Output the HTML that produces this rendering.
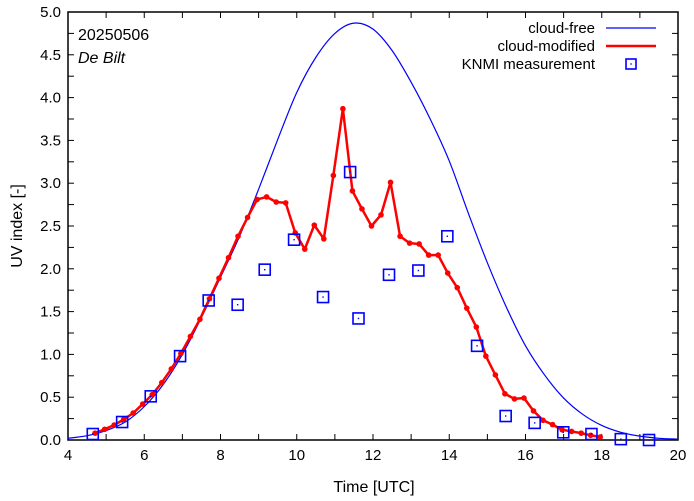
<!DOCTYPE html>
<html><head><meta charset="utf-8"><style>
body{margin:0;background:#fff}
svg{display:block;font-family:"Liberation Sans",sans-serif}
</style></head><body>
<svg id="chart" width="694" height="501" viewBox="0 0 694 501">
<g id="axes"></g>
<g id="plot"></g>
<g id="legend"></g>
<text x="78" y="40" font-size="16">20250506</text>
<text x="78" y="63" font-size="16" font-style="italic">De Bilt</text>
<text x="374" y="492" font-size="16" text-anchor="middle">Time  [UTC]</text>
<text x="22" y="226" font-size="16" text-anchor="middle" transform="rotate(-90 22 226)">UV index  [-]</text>
</svg>
<script>
const xTicks=[4,6,8,10,12,14,16,18,20];
const yTicks=[0,0.5,1,1.5,2,2.5,3,3.5,4,4.5,5];
const clearTimes=[4.0,4.5,5.0,5.5,6.0,6.5,7.0,7.5,8.0,8.5,9.0,9.5,10.0,10.5,11.0,11.5,12.0,12.5,13.0,13.5,14.0,14.5,15.0,15.5,16.0,16.5,17.0,17.5,18.0,18.5,19.0,19.5,20.0];
const clearValues=[0.02,0.05,0.11,0.21,0.39,0.65,1.00,1.43,1.90,2.38,2.93,3.51,4.06,4.47,4.75,4.87,4.80,4.55,4.18,3.75,3.26,2.65,2.07,1.55,1.10,0.76,0.49,0.30,0.17,0.09,0.045,0.02,0.01];
const modStart=4.71, modStep=0.25;
const modValues=[0.08,0.125,0.175,0.24,0.315,0.42,0.53,0.67,0.83,1.01,1.21,1.41,1.65,1.89,2.13,2.38,2.60,2.81,2.84,2.78,2.77,2.42,2.23,2.51,2.35,3.09,3.87,2.91,2.70,2.50,2.63,3.01,2.38,2.30,2.29,2.16,2.16,1.95,1.78,1.54,1.32,0.98,0.76,0.54,0.48,0.49,0.34,0.23,0.18,0.12,0.10,0.08,0.055,0.035];
const measTimes=[4.65,5.42,6.17,6.94,7.69,8.45,9.16,9.93,10.69,11.40,11.62,12.42,13.19,13.95,14.73,15.48,16.24,16.99,17.73,18.50,19.24];
const measValues=[0.07,0.21,0.51,0.98,1.63,1.58,1.99,2.34,1.67,3.13,1.42,1.93,1.98,2.38,1.10,0.28,0.20,0.09,0.07,0.01,0.0];

const L=68,R=678,T=12,B=440;
const X=t=>L+(t-4)/16*(R-L);
const Y=v=>B-v/5*(B-T);
const NS="http://www.w3.org/2000/svg";
function mk(tag,attrs,parent){const e=document.createElementNS(NS,tag);for(const k in attrs)e.setAttribute(k,attrs[k]);parent.appendChild(e);return e;}
const axes=document.getElementById('axes'),plot=document.getElementById('plot'),leg=document.getElementById('legend');

for(let t=4;t<=20;t+=1){
 const x=X(t);
 const a=mk('line',{x1:x,x2:x,y1:B,y2:B-6,stroke:'#000','stroke-width':1},axes);
 
 
 const b=mk('line',{x1:x,x2:x,y1:T,y2:T+6,stroke:'#000','stroke-width':1},axes);
 
 
}
for(let v=0;v<=5.001;v+=0.25){
 const y=Y(v);
 const a=mk('line',{x1:L,x2:L+6,y1:y,y2:y,stroke:'#000','stroke-width':1},axes);
 
 
 const b=mk('line',{x1:R,x2:R-6,y1:y,y2:y,stroke:'#000','stroke-width':1},axes);
 
 
}
xTicks.forEach(t=>{
 const e=mk('text',{x:X(t),y:B+20,'font-size':15,'text-anchor':'middle'},axes);
 e.textContent=t;
 
 
});
yTicks.forEach(v=>{
 const e=mk('text',{x:L-7,y:Y(v)+5,'font-size':15,'text-anchor':'end'},axes);
 e.textContent=v.toFixed(1);
 
 
});
const fr=mk('rect',{x:L,y:T,width:R-L,height:B-T,fill:'none',stroke:'#000','stroke-width':1.5},axes);



const cp=clearTimes.map((t,i)=>[X(t),Y(clearValues[i])]);
let d='M'+cp[0][0]+','+cp[0][1];
for(let i=0;i<cp.length-1;i++){
 const p0=cp[Math.max(0,i-1)],p1=cp[i],p2=cp[i+1],p3=cp[Math.min(cp.length-1,i+2)];
 d+=' C'+(p1[0]+(p2[0]-p0[0])/6)+','+(p1[1]+(p2[1]-p0[1])/6)+' '+(p2[0]-(p3[0]-p1[0])/6)+','+(p2[1]-(p3[1]-p1[1])/6)+' '+p2[0]+','+p2[1];
}
const cl=mk('path',{d:d,fill:'none',stroke:'#0000ff','stroke-width':1.2},plot);



const mp=modValues.map((v,i)=>X(modStart+i*modStep)+','+Y(v)).join(' ');
const ml=mk('polyline',{points:mp,fill:'none',stroke:'#ff0000','stroke-width':2.5,'stroke-linejoin':'round'},plot);


modValues.forEach((v,i)=>{
 const c=mk('circle',{cx:X(modStart+i*modStep),cy:Y(v),r:2.8,fill:'#ff0000'},plot);
 
 
});
measTimes.forEach((t,i)=>{
 const x=X(t),y=Y(measValues[i]);
 const s=mk('rect',{x:x-5.5,y:y-5.5,width:11,height:11,fill:'none',stroke:'#0000ff','stroke-width':1.6},plot);
 
 
 const c=mk('rect',{x:x-0.7,y:y-0.7,width:1.4,height:1.4,fill:'#0000ff'},plot);
 
 
});

const items=[['cloud-free','line','#0000ff',1.2],['cloud-modified','line','#ff0000',2.5],['KNMI measurement','sq','#0000ff',1.6]];
items.forEach((it,i)=>{
 const y=28+i*18;
 const t=mk('text',{x:595,y:y+5,'font-size':15,'text-anchor':'end'},leg);
 t.textContent=it[0];
 
 
 if(it[1]==='line'){
  const l=mk('line',{x1:606,x2:656,y1:y,y2:y,stroke:it[2],'stroke-width':it[3]},leg);
  
  
 }else{
  const s=mk('rect',{x:626,y:y-5,width:10,height:10,fill:'none',stroke:it[2],'stroke-width':it[3]},leg);
  
  
  const c=mk('rect',{x:630.3,y:y-0.7,width:1.4,height:1.4,fill:it[2]},leg);
  
  
 }
});
</script>
</body></html>
